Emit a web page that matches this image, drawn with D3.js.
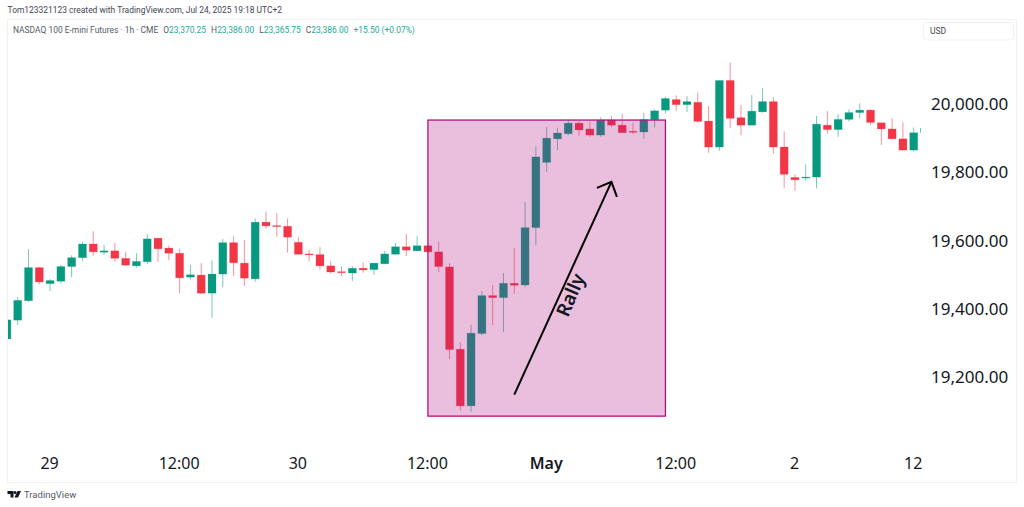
<!DOCTYPE html>
<html>
<head>
<meta charset="utf-8">
<script src="https://cdn.jsdelivr.net/npm/d3@7"></script>
<style>
    html, body { margin: 0; padding: 0; background: #fff; }
    svg { display: block; font-family: "Noto Sans", sans-serif; }
    .tick-y text { font-size: 17px; fill: #131722; }
    .tick-x text { font-size: 16px; fill: #131722; }
</style>
</head>
<body>
<div id="chart"></div>
<script>
const opens = [19312,19367,19424,19521,19474,19481,19524,19550,19590,19566,19570,19548,19526,19538,19607,19578,19563,19493,19499,19446,19502,19594,19534,19488,19654,19644,19642,19595,19561,19559,19526,19509,19505,19519,19515,19532,19560,19582,19570,19585,19567,19523,19282,19116,19328,19439,19433,19475,19470,19638,19829,19898,19913,19944,19927,19909,19953,19938,19920,19918,19954,19982,20013,19998,20005,19950,19874,20069,19960,19938,19977,20007,19874,19785,19784,19786,19938,19925,19955,19975,19982,19945,19927,19898,19865,19916];
const highs = [19368,19434,19575,19523,19487,19529,19557,19597,19627,19587,19593,19567,19563,19619,19607,19585,19576,19529,19534,19542,19605,19613,19602,19665,19685,19681,19665,19609,19572,19581,19540,19525,19525,19536,19534,19570,19593,19619,19613,19585,19597,19534,19303,19353,19452,19470,19505,19579,19713,19876,19933,19931,19955,19950,19949,19961,19965,19971,19946,19974,19984,20020,20025,20023,20034,19994,20069,20122,19997,20026,20047,20020,19920,19794,19823,19965,19979,19970,19984,20002,19984,19945,19958,19946,19931,19933];
const lows = [19312,19353,19421,19472,19452,19475,19493,19541,19556,19558,19538,19526,19521,19531,19538,19543,19445,19486,19443,19374,19463,19496,19467,19480,19635,19611,19565,19559,19540,19515,19503,19496,19482,19506,19500,19531,19559,19555,19570,19567,19508,19253,19102,19099,19323,19353,19333,19444,19463,19587,19802,19865,19909,19907,19904,19904,19932,19916,19912,19898,19931,19972,19980,19977,19946,19857,19863,19930,19908,19938,19975,19854,19755,19746,19775,19753,19913,19904,19949,19958,19939,19880,19897,19865,19862,19916];
const closes = [19368,19425,19521,19479,19483,19524,19550,19590,19567,19570,19548,19528,19539,19605,19576,19563,19491,19500,19446,19502,19594,19535,19490,19654,19643,19641,19610,19560,19559,19526,19508,19506,19519,19514,19534,19561,19582,19572,19585,19567,19524,19281,19116,19329,19439,19433,19475,19469,19638,19845,19900,19915,19944,19924,19909,19953,19938,19916,19917,19954,19980,20016,19998,20007,19949,19874,20069,19958,19938,19979,20007,19874,19794,19778,19786,19941,19925,19955,19975,19982,19946,19927,19898,19865,19916,19929];

const priceTicks = [19200, 19400, 19600, 19800, 20000];
const timeTicks = [4, 16, 27, 39, 50, 62, 73, 84];
const timeLabels = ['29', '12:00', '30', '12:00', 'May', '12:00', '2', '12'];

// rally box and arrow, in candle index / price
const boxIndex = [39, 61];
const boxPrice = [19086, 19953];
const arrowIndex = [47, 56];
const arrowPrice = [19149, 19772];

const width = 1024, height = 507;
const plot = { left: 8, right: 921, top: 19, bottom: 482 };

const upColor = '#089981', downColor = '#f23645', boxColor = '#b21282';

const x = d3.scaleLinear().domain([0, 85]).range([6.9, 924.5]);
const y = d3.scaleLinear().domain([19200, 20000]).range([377.2, 104]);

const svg = d3.select('#chart').append('svg')
    .attr('width', width)
    .attr('height', height);

svg.append('defs').append('clipPath').attr('id', 'pane')
    .append('rect')
    .attr('x', plot.left)
    .attr('y', plot.top)
    .attr('width', plot.right - plot.left)
    .attr('height', plot.bottom - plot.top);

// frame
svg.append('rect')
    .attr('x', 7.5).attr('y', 19.5)
    .attr('width', 1009).attr('height', 463)
    .attr('fill', 'none')
    .attr('stroke', '#f0f1f4');

// candles
const candles = svg.append('g').attr('clip-path', 'url(#pane)')
    .selectAll('g')
    .data(opens.map((o, i) => ({ i, o, h: highs[i], l: lows[i], c: closes[i] })))
    .enter()
    .append('g')
    .attr('fill', d => d.c >= d.o ? upColor : downColor)
    .attr('stroke', d => d.c >= d.o ? upColor : downColor);

candles.append('line')
    .attr('x1', d => x(d.i))
    .attr('x2', d => x(d.i))
    .attr('y1', d => y(d.h))
    .attr('y2', d => y(d.l))
    .attr('stroke-width', 1)
    .attr('stroke-opacity', 0.55);

candles.append('rect')
    .attr('x', d => x(d.i) - 4)
    .attr('width', 8)
    .attr('y', d => y(Math.max(d.o, d.c)))
    .attr('height', d => Math.max(1, Math.abs(y(d.o) - y(d.c))))
    .attr('stroke-opacity', 0.2);

// rally box
svg.append('rect')
    .attr('x', x(boxIndex[0]))
    .attr('y', y(boxPrice[1]))
    .attr('width', x(boxIndex[1]) - x(boxIndex[0]))
    .attr('height', y(boxPrice[0]) - y(boxPrice[1]))
    .attr('fill', boxColor)
    .attr('fill-opacity', 0.27)
    .attr('stroke', boxColor)
    .attr('stroke-width', 1.3);

// arrow
const tipX = x(arrowIndex[1]), tipY = y(arrowPrice[1]);
svg.append('line')
    .attr('x1', x(arrowIndex[0]))
    .attr('y1', y(arrowPrice[0]))
    .attr('x2', tipX)
    .attr('y2', tipY)
    .attr('stroke', '#000')
    .attr('stroke-width', 2);

svg.append('path')
    .attr('d', `M${tipX - 14.5},${tipY + 6}L${tipX},${tipY}L${tipX + 5.5},${tipY + 15}`)
    .attr('fill', 'none')
    .attr('stroke', '#000')
    .attr('stroke-width', 2);

svg.append('text')
    .attr('transform', 'translate(570.5,295) rotate(-67)')
    .attr('text-anchor', 'middle')
    .attr('dy', '0.35em')
    .attr('font-size', 19)
    .attr('font-weight', 600)
    .attr('fill', '#131722')
    .text('Rally');

// axes
const yAxis = svg.append('g')
    .attr('class', 'tick-y')
    .attr('transform', `translate(${plot.right},0)`)
    .call(d3.axisRight(y).tickValues(priceTicks).tickSize(0).tickPadding(10).tickFormat(d3.format(',.2f')));
yAxis.select('.domain').remove();
yAxis.selectAll('text').style('font-family', '"Noto Sans", sans-serif');

const xAxis = svg.append('g')
    .attr('class', 'tick-x')
    .attr('transform', 'translate(-1,454.5)')
    .call(d3.axisBottom(x).tickValues(timeTicks).tickSize(0).tickPadding(3).tickFormat((d, i) => timeLabels[i]));
xAxis.select('.domain').remove();
xAxis.selectAll('text')
    .style('font-family', '"Noto Sans", sans-serif')
    .style('font-weight', (d, i) => timeLabels[i] === 'May' ? 600 : 400);

// header texts
svg.append('text')
    .attr('x', 7.5).attr('y', 13)
    .attr('font-family', 'Roboto, sans-serif')
    .attr('font-size', 8.45)
    .attr('fill', '#434651')
    .text('Tom123321123 created with TradingView.com, Jul 24, 2025 19:18 UTC+2');

const legend = svg.append('text')
    .attr('x', 13).attr('y', 33)
    .attr('font-family', 'Roboto, sans-serif')
    .attr('font-size', 8.45)
    .attr('fill', '#555a66');
legend.append('tspan').text('NASDAQ 100 E-mini Futures · 1h · CME');
[['O', '23,370.25'], ['H', '23,386.00'], ['L', '23,365.75'], ['C', '23,386.00']].forEach(([k, v]) => {
    legend.append('tspan').attr('dx', 5).text(k);
    legend.append('tspan').attr('fill', '#22ab94').text(v);
});
legend.append('tspan').attr('dx', 5).attr('fill', '#22ab94').text('+15.50 (+0.07%)');

// currency button
svg.append('rect')
    .attr('x', 923.5).attr('y', 22.5)
    .attr('width', 90).attr('height', 17.5)
    .attr('rx', 3)
    .attr('fill', '#fff')
    .attr('stroke', '#f0f1f4');
svg.append('text')
    .attr('x', 930).attr('y', 33.5)
    .attr('font-family', 'Roboto, sans-serif')
    .attr('font-size', 8.5)
    .attr('fill', '#434651')
    .text('USD');

// footer logo
const logo = svg.append('g').attr('fill', '#131722');
logo.append('path').attr('d', 'M7.5,491H13.5V497.5H10.5V494H7.5Z');
logo.append('circle').attr('cx', 15).attr('cy', 492.6).attr('r', 1.5);
logo.append('path').attr('d', 'M17.5,491H21L18,497.5H14.5Z');
svg.append('text')
    .attr('x', 24).attr('y', 498)
    .attr('font-family', 'Roboto, sans-serif')
    .attr('font-size', 9.5)
    .attr('fill', '#555a66')
    .text('TradingView');
</script>
</body>
</html>
